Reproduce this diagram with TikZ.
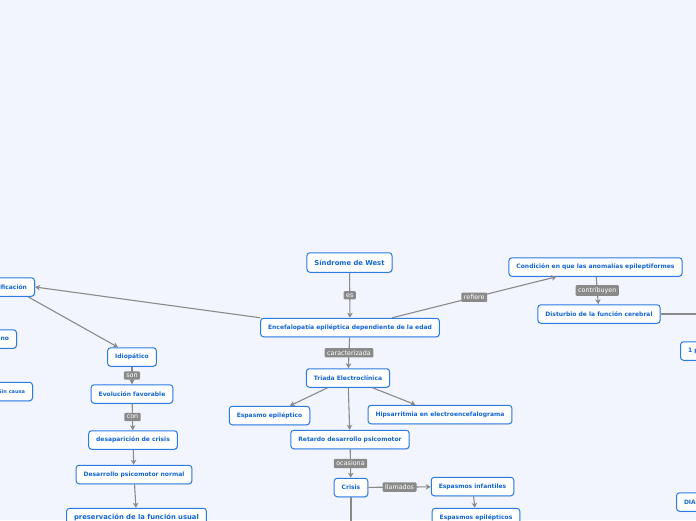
\documentclass[tikz,border=0pt]{standalone}
\usepackage{fontspec}
\setmainfont{DejaVu Sans}
\usetikzlibrary{positioning,arrows.meta,shadows}
\definecolor{mapbg}{HTML}{F2F5FD}
\definecolor{mapblue}{HTML}{2B7BE4}
\definecolor{mapink}{HTML}{1366D6}
\definecolor{mapgray}{HTML}{8A8A8A}
\tikzset{
  topic/.style  ={rounded corners=3pt,draw=mapblue,fill=white,line width=1pt,align=center,
                  inner xsep=7.5pt,inner ysep=2pt,minimum height=18.5pt,text=mapink,
                  font=\fontsize{6}{7}\selectfont\bfseries,
                  drop shadow={opacity=0.25,shadow xshift=0.5pt,shadow yshift=-0.9pt}},
  root/.style   ={topic,font=\fontsize{6.8}{8}\selectfont\bfseries,minimum height=19.5pt},
  big/.style    ={topic,font=\fontsize{6.8}{8}\selectfont\bfseries},
  small/.style  ={topic,font=\fontsize{5}{6}\selectfont\bfseries},
  tag/.style    ={fill=mapgray,text=white,font=\fontsize{6.4}{7.5}\selectfont,rounded corners=1pt,
                  inner xsep=2.5pt,inner ysep=2.2pt},
  link/.style   ={draw=mapgray,line width=1.1pt,-{Stealth[length=5pt,width=5.5pt,inset=1.5pt]}},
  plain/.style  ={draw=mapgray,line width=1.1pt},
}
\begin{document}
\begin{tikzpicture}[x=1pt,y=-1pt]
  \fill[mapbg] (0,0) rectangle (696,520);
  \useasboundingbox (0,0) rectangle (696,520);
  \clip (0,0) rectangle (696,520);

  % centre branch
  \node[root]  (west)    at (349.5,262.5) {Síndrome de West};
  \node[topic] (encef)   at (350,327.5)   {Encefalopatía epiléptica dependiente de la edad};
  \node[topic] (triada)  at (348,378)     {Triada Electroclínica};
  \node[topic] (espasmo) at (269.5,415.5) {Espasmo epiléptico};
  \node[topic] (hipsa)   at (440,414.5)   {Hipsarritmia en electroencefalograma};
  \node[topic] (retardo) at (350,439.5)   {Retardo desarrollo psicomotor};
  \node[topic] (crisis)  at (351,487.5)   {Crisis};
  \node[topic] (infant)  at (472.5,486.5) {Espasmos infantiles};
  \node[topic] (epilep)  at (476,517.5)   {Espasmos epilépticos};

  % right branch
  \node[topic] (condic)  at (595.5,267)   {Condición en que las anomalías epileptiformes};
  \node[topic] (disturb) at (599,314)     {Disturbio de la función cerebral};
  \node[topic,anchor=west] (prev) at (680,351) {1 por cada 4000 nacidos};
  \node[topic,anchor=west] (diag) at (676,502) {DIAGNÓSTICO};

  % left branch
  \node[topic,anchor=east] (clasif)   at (35,287)   {Clasificación};
  \node[topic,anchor=east] (benigno)  at (17,339)   {Benigno};
  \node[small,anchor=east] (sincausa) at (33,391.5) {Sin causa};
  \node[topic] (idio)    at (132,357)   {Idiopático};
  \node[topic] (evol)    at (132,394)   {Evolución favorable};
  \node[topic] (desap)   at (133,440)   {desaparición de crisis};
  \node[topic] (desnorm) at (134,474.5) {Desarrollo psicomotor normal};
  \node[big]   (preserv) at (136.5,517.5) {preservación de la función usual};

  \coordinate (crisisout)  at (351,535);
  \coordinate (disturbout) at (710,314);

  \draw[link] (west) -- node[tag]{es} (encef);
  \draw[link] (encef) -- node[tag]{caracterizada} (triada);
  \draw[link] (triada) -- (espasmo);
  \draw[link] (triada) -- (hipsa);
  \draw[link] (triada) -- (retardo);
  \draw[link] (retardo) -- node[tag]{ocasiona} (crisis);
  \draw[link] (crisis) -- node[tag]{llamados} (infant);
  \draw[link] (infant) -- (epilep);
  \draw[plain] (crisis) -- (crisisout);
  \draw[link] ([xshift=42pt]encef.north) -- node[tag]{refiere} ([xshift=-39pt]condic.south);
  \draw[link] (condic) -- node[tag]{contribuyen} (disturb);
  \draw[plain] (disturb) -- (disturbout);
  \draw[link] (encef.north west) -- (clasif.east);
  \draw[link] ([xshift=-7pt]clasif.south east) -- ([xshift=-14pt]idio.north);
  \draw[link] (idio) -- node[tag]{son} (evol);
  \draw[link] (evol) -- node[tag]{con} (desap);
  \draw[link] (desap) -- (desnorm);
  \draw[link] (desnorm) -- (preserv);
\end{tikzpicture}
\end{document}
